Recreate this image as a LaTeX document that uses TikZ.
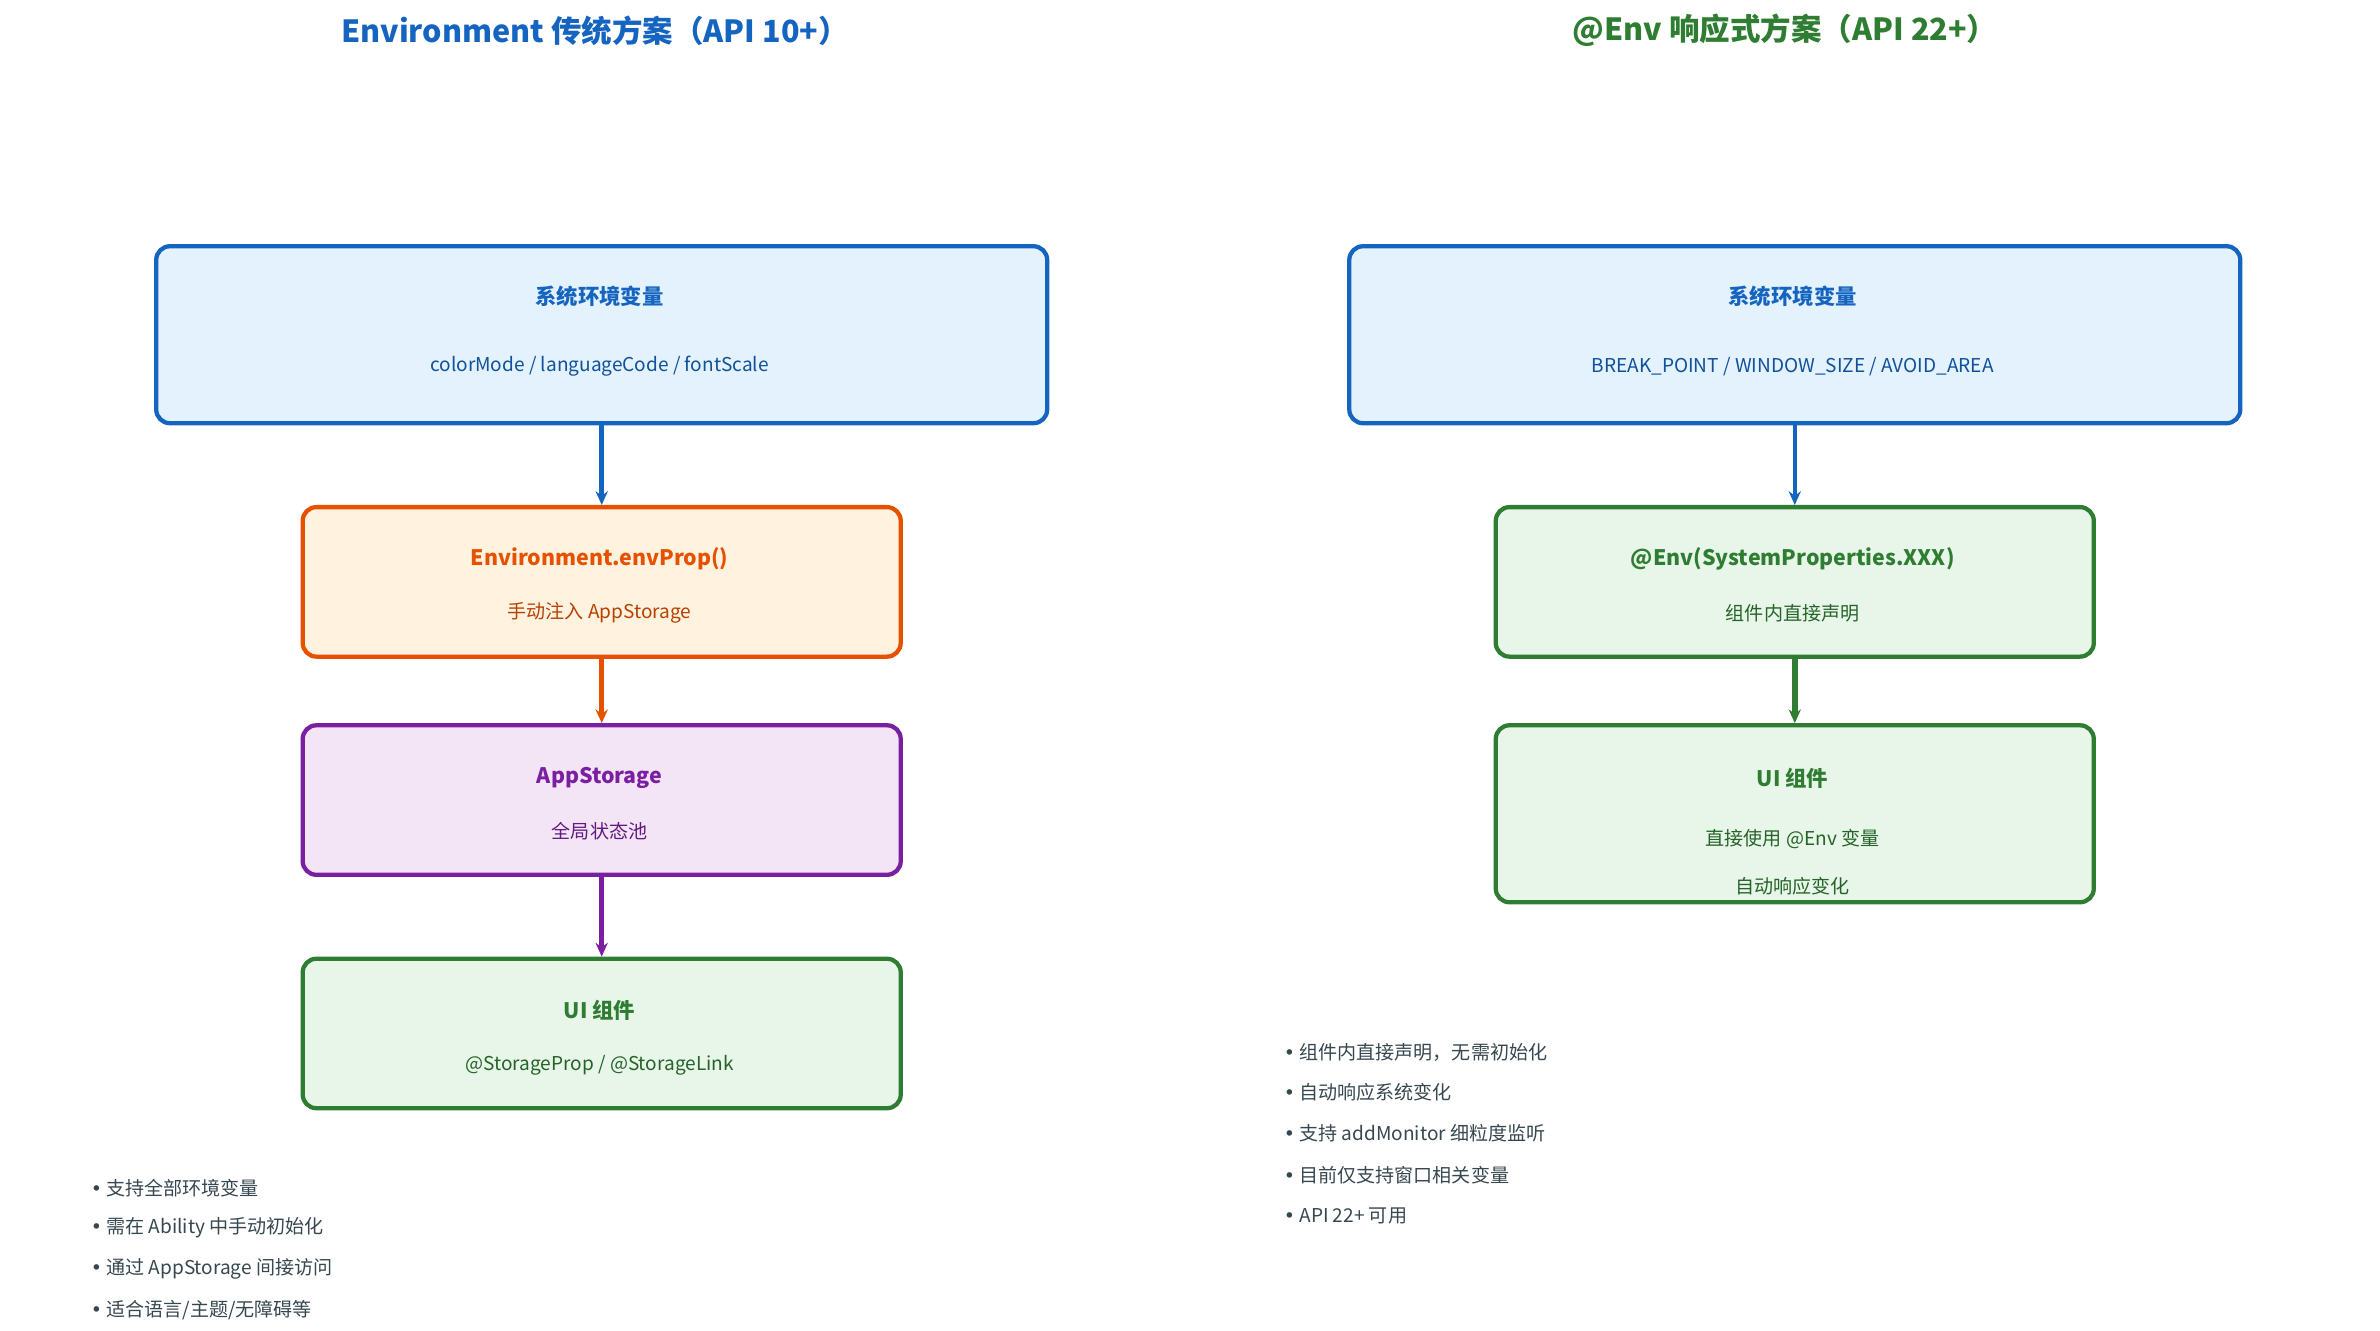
\documentclass[tikz,border=0pt]{standalone}
\usepackage{fontspec}
\setmainfont{Noto Sans CJK SC}
\newfontfamily\dejavu{DejaVu Sans}
\usetikzlibrary{arrows.meta}
\definecolor{blueD}{HTML}{1565C0}
\definecolor{blueL}{HTML}{E3F2FD}
\definecolor{orangeD}{HTML}{E65100}
\definecolor{orangeL}{HTML}{FFF3E0}
\definecolor{purpleD}{HTML}{7B1FA2}
\definecolor{purpleL}{HTML}{F3E5F5}
\definecolor{greenD}{HTML}{2E7D32}
\definecolor{greenL}{HTML}{E8F5E9}
\definecolor{noteC}{HTML}{37474F}
\newcommand{\bul}{{\dejavu •}\ }
\tikzset{
  box/.style={draw=#1D, fill=#1L, line width=2.8pt, rounded corners=9pt, anchor=north west},
  head/.style={font=\fontsize{14}{16}\selectfont\bfseries},
  sub/.style={font=\fontsize{12.5}{14}\selectfont},
  note/.style={font=\fontsize{12.5}{14}\selectfont, text=noteC, anchor=west},
  flow/.style={-{Stealth[length=9pt,width=8pt]}, line width=3pt},
}
\begin{document}
\begin{tikzpicture}[x=1pt,y=-1pt]
    \useasboundingbox (0,0) rectangle (1560,872);

    % Titles
    \node[font=\fontsize{20}{24}\selectfont\bfseries, text=blueD] (tl) at (390,20) {Environment 传统方案（API 10+）};
    \node[font=\fontsize{20}{24}\selectfont\bfseries, text=greenD] (tr) at (1170,20) {@Env 响应式方案（API 22+）};

    % Left column
    \node[box=blue, minimum width=584pt, minimum height=116pt] (sysL) at (101,160) {};
    \node[head, text=blueD] (sysLh) at (393,194) {系统环境变量};
    \node[sub, text=blueD!80!black] (sysLs) at (393,240) {colorMode / languageCode / fontScale};

    \node[box=orange, minimum width=392pt, minimum height=98pt] (envp) at (197,331) {};
    \node[head, text=orangeD] (envph) at (393,366) {Environment.envProp()};
    \node[sub, text=orangeD!80!black] (envps) at (393,402) {手动注入 AppStorage};

    \node[box=purple, minimum width=392pt, minimum height=98pt] (store) at (197,474) {};
    \node[head, text=purpleD] (storeh) at (393,510) {AppStorage};
    \node[sub, text=purpleD!80!black] (stores) at (393,545) {全局状态池};

    \node[box=green, minimum width=392pt, minimum height=98pt] (uiL) at (197,627) {};
    \node[head, text=greenD] (uiLh) at (393,662) {UI 组件};
    \node[sub, text=greenD!80!black] (uiLs) at (393,698) {@StorageProp / @StorageLink};

    \draw[flow, blueD] (sysL.south) -- (envp.north);
    \draw[flow, orangeD] (envp.south) -- (store.north);
    \draw[flow, purpleD] (store.south) -- (uiL.north);

    \node[note] (nl1) at (56,779) {\bul 支持全部环境变量};
    \node[note] (nl2) at (56,805) {\bul 需在 Ability 中手动初始化};
    \node[note] (nl3) at (56,832) {\bul 通过 AppStorage 间接访问};
    \node[note] (nl4) at (56,859) {\bul 适合语言/主题/无障碍等};

    % Right column
    \node[box=blue, minimum width=584pt, minimum height=116pt] (sysR) at (883,160) {};
    \node[head, text=blueD] (sysRh) at (1175,194) {系统环境变量};
    \node[sub, text=blueD!80!black] (sysRs) at (1175,240) {BREAK\_POINT / WINDOW\_SIZE / AVOID\_AREA};

    \node[box=green, minimum width=392pt, minimum height=98pt] (envd) at (979,331) {};
    \node[head, text=greenD] (envdh) at (1175,366) {@Env(SystemProperties.XXX)};
    \node[sub, text=greenD!80!black] (envds) at (1175,402) {组件内直接声明};

    \node[box=green, minimum width=392pt, minimum height=116pt] (uiR) at (979,474) {};
    \node[head, text=greenD] (uiRh) at (1175,510) {UI 组件};
    \node[sub, text=greenD!80!black] (uiRs1) at (1175,550) {直接使用 @Env 变量};
    \node[sub, text=greenD!80!black] (uiRs2) at (1175,581) {自动响应变化};

    \draw[flow, blueD] (sysR.south) -- (envd.north);
    \draw[flow, greenD, line width=4pt] (envd.south) -- (uiR.north);

    \node[note] (nr1) at (838,690) {\bul 组件内直接声明，无需初始化};
    \node[note] (nr2) at (838,716) {\bul 自动响应系统变化};
    \node[note] (nr3) at (838,743) {\bul 支持 addMonitor 细粒度监听};
    \node[note] (nr4) at (838,770) {\bul 目前仅支持窗口相关变量};
    \node[note] (nr5) at (838,797) {\bul API 22+ 可用};
\end{tikzpicture}
\end{document}
